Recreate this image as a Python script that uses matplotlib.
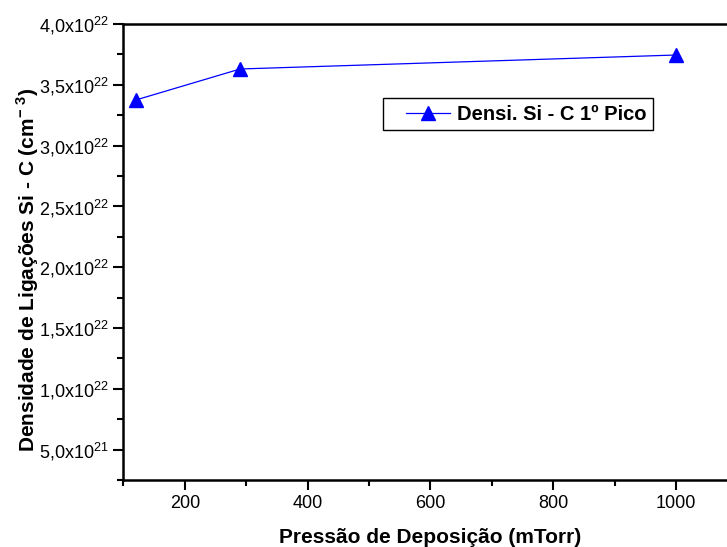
import matplotlib.pyplot as plt
from matplotlib.ticker import MultipleLocator, FuncFormatter
from matplotlib.legend_handler import HandlerLine2D

plt.rcParams['font.family'] = ['Liberation Sans', 'DejaVu Sans']
plt.rcParams['mathtext.fontset'] = 'custom'
plt.rcParams['mathtext.rm'] = 'Liberation Sans'
plt.rcParams['mathtext.bf'] = 'Liberation Sans:bold'

# Si-C bond density vs deposition pressure
pressao = [120, 290, 1000]
densidade = [3.375e22, 3.63e22, 3.745e22]


def fmt_sci(v, pos):
    if v <= 0:
        return ""
    exp = 0
    m = v
    while m >= 10:
        m /= 10.0
        exp += 1
    return ("%.1f" % m).replace(".", ",") + "x10$^{%d}$" % exp


class HandlerIndented(HandlerLine2D):
    # legend line starts a bit in from the left of its slot
    def get_xdata(self, legend, xdescent, ydescent, width, height, fontsize):
        off = 12
        x0 = -xdescent + off
        x1 = -xdescent + width
        return [x0, x1], [0.5 * (x0 + x1)]


fig = plt.figure(figsize=(7.27, 5.47), dpi=100)
# right side of the frame runs past the edge of the figure
ax = fig.add_axes([123.5 / 727, 1 - 480 / 547, 614 / 727, 456 / 547])
linha, = ax.plot(pressao, densidade, color='blue', lw=0.9, marker='^', ms=10,
                 label='Densi. Si - C 1º Pico')

ax.set_xlim(100, 1100)
ax.set_ylim(2.5e21, 4.0e22)
ax.xaxis.set_major_locator(MultipleLocator(200))
ax.xaxis.set_minor_locator(MultipleLocator(100))
ax.yaxis.set_major_locator(MultipleLocator(5e21))
ax.yaxis.set_minor_locator(MultipleLocator(2.5e21))
ax.yaxis.set_major_formatter(FuncFormatter(fmt_sci))

for s in ['left', 'bottom', 'top']:
    ax.spines[s].set_linewidth(1.8)
ax.spines['right'].set_visible(False)
ax.tick_params(which='both', direction='out', width=1.5, labelsize=13)
ax.tick_params(which='major', length=7)
ax.tick_params(which='minor', length=4)
ax.tick_params(top=False, right=False)

ax.set_xlabel('Pressão de Deposição (mTorr)', fontsize=15, fontweight='bold', labelpad=12)
ax.set_ylabel('Densidade de Ligações Si - C (cm$^{\\mathbf{-\\ 3}}$)', fontsize=15,
              fontweight='bold')
ax.yaxis.set_label_coords((41 - 123.5) / 614, (480 - 270) / 456)

leg = ax.legend(loc='upper left', bbox_to_anchor=(383 / 727, 1 - 98 / 547),
                bbox_transform=fig.transFigure, fancybox=False, framealpha=1,
                edgecolor='black', handlelength=2.98, handletextpad=0.35,
                borderpad=0.33, borderaxespad=0,
                handler_map={linha: HandlerIndented()},
                prop={'weight': 'bold', 'size': 14.5})
leg.get_frame().set_linewidth(1.0)

fig.savefig('out.png', dpi=100)
